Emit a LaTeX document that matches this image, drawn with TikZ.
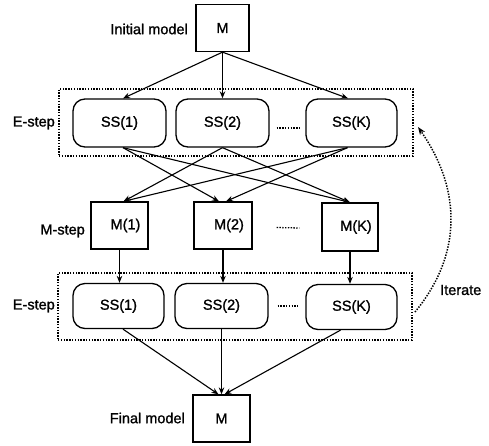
\documentclass[tikz,border=0pt]{standalone}
\usepackage{fontspec}
\setmainfont{Liberation Sans}[BoldFont={Liberation Sans},BoldFeatures={FakeBold=1.2}]
\usetikzlibrary{arrows.meta,calc}
\begin{document}
\begin{tikzpicture}[x=1pt,y=-1pt,
  font=\fontsize{14.5}{17}\selectfont\bfseries,
  sq/.style={draw,line width=1.3pt,inner sep=0pt,minimum height=47pt},
  mstep/.style={sq,execute at begin node={\hspace*{12pt}}},
  ss/.style={draw,line width=1.3pt,rounded corners=12pt,inner sep=0pt,minimum height=47pt},
  group/.style={draw,dash pattern=on 1.4pt off 1.4pt,line width=1.4pt,inner sep=0pt,minimum width=354pt,minimum height=67pt},
  lbl/.style={inner sep=0pt},
  arr/.style={line width=1.1pt,-{Stealth[length=7pt,width=5.5pt]}},
  dots/.style={dash pattern=on 1.4pt off 1.4pt,line width=1.3pt}]
\useasboundingbox (0,0) rectangle (489,445);
% upper row
\node[sq,minimum width=53pt] (m0) at (222.5,28) {M};
\node[lbl,anchor=east] (linit) at (188,29) {Initial model};
\node[group] (g1) at (236,122.5) {};
\node[ss,minimum width=93pt,minimum height=48pt] (ss1) at (119.5,123) {SS(1)};
\node[ss,minimum width=93pt,minimum height=48pt] (ss2) at (222.5,123) {SS(2)};
\node[ss,minimum width=91pt,minimum height=48pt] (ssk) at (351.5,123) {SS(K)};
\node[lbl,anchor=east] (le1) at (55,123) {E-step};
\draw[dots] ($(ss2.east)+(7,5)$) -- ($(ssk.west)+(-6,5)$);
% M-step row
\node[mstep,minimum width=57pt] (m1) at (119.5,225.5) {M(1)};
\node[mstep,minimum width=58pt] (m2) at (223,225.5) {M(2)};
\node[mstep,minimum width=56pt,minimum height=48pt] (mk) at (350,227) {M(K)};
\node[lbl,anchor=east] (lm) at (85,231) {M-step};
\draw[dots] ($(m2.east)+(24,2)$) -- ($(mk.west)+(-22,1)$);
% lower row
\node[group] (g2) at (235,306.5) {};
\node[ss,minimum width=91pt,minimum height=45pt] (ls1) at (118.5,306) {SS(1)};
\node[ss,minimum width=93pt,minimum height=45pt] (ls2) at (221.5,306) {SS(2)};
\node[ss,minimum width=91pt,minimum height=45pt] (lsk) at (351.5,307) {SS(K)};
\node[lbl,anchor=east] (le2) at (55,306) {E-step};
\draw[dots] ($(ls2.east)+(9,0)$) -- ($(lsk.west)+(-8,-1)$);
% final
\node[sq,minimum width=57pt] (mf) at (221.5,418.5) {M};
\node[lbl,anchor=east] (lfin) at (185,418) {Final model};
% arrows top
\draw[arr] (m0.south) -- ($(ss1.north)+(3.5,0)$);
\draw[arr] (m0.south) -- (ss2.north);
\draw[arr] (m0.south) -- ($(ssk.north)+(-3.5,0)$);
% cross arrows
\draw[arr] ($(ss1.south)+(3.5,0)$) -- ($(m2.north)+(-4,0)$);
\draw[arr] ($(ss1.south)+(3.5,0)$) -- (mk.north);
\draw[arr] (ss2.south) -- ($(m1.north)+(4,0)$);
\draw[arr] (ss2.south) -- (mk.north);
\draw[arr] ($(ssk.south)+(-4,0)$) -- ($(m1.north)+(4,0)$);
\draw[arr] ($(ssk.south)+(-4,0)$) -- ($(m2.north)+(3,0)$);
% down arrows
\draw[arr] (m1.south) -- (m1.south |- ls1.north);
\draw[arr] (m2.south) -- (m2.south |- ls2.north);
\draw[arr] (mk.south) -- (mk.south |- lsk.north);
% to final
\draw[arr] ($(ls1.south)+(4.5,0)$) -- ($(mf.north)+(-3,0)$);
\draw[arr] (ls2.south) -- (mf.north);
\draw[arr] ($(lsk.south)+(-11,0)$) -- ($(mf.north)+(3,0)$);
% iterate
\coordinate (itS) at (415,312);
\coordinate (itE) at (418,127);
\draw[dash pattern=on 1.4pt off 1.4pt,line width=1.5pt,-{Stealth[length=8pt,width=6pt]}] (itS) .. controls (462,255) and (462,190) .. (itE);
\node[lbl,anchor=west] (lit) at (440,290) {Iterate};
\end{tikzpicture}
\end{document}
